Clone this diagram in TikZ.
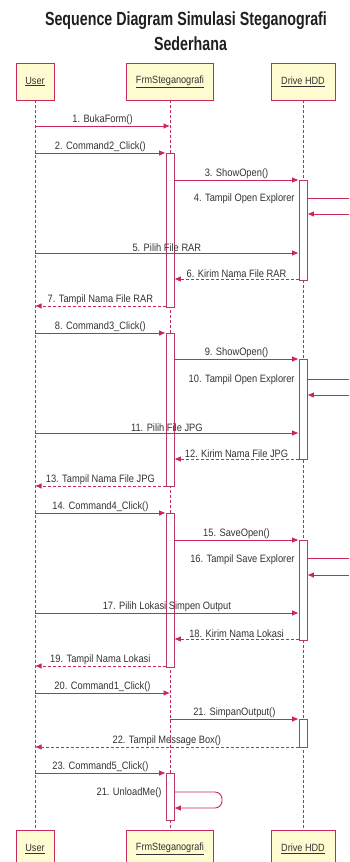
\documentclass[tikz,border=0pt]{standalone}
\usepackage{fontspec}
\usetikzlibrary{arrows.meta}
\newfontfamily\labf[FakeStretch=0.87]{Liberation Sans}
\newfontfamily\titf[FakeStretch=0.75]{Liberation Sans}
\definecolor{crim}{HTML}{C8285A}
\definecolor{boxfill}{HTML}{FFFCD2}
\definecolor{txt}{HTML}{333333}
\tikzset{
  obj/.style={draw=crim, line width=0.8pt, fill=boxfill, minimum height=37pt, inner sep=0pt, font=\labf\fontsize{10.5}{12}\selectfont, text=txt},
  act/.style={draw=crim!80!gray, line width=0.6pt, fill=white, minimum width=8pt, inner sep=0pt},
  life/.style={crim, line width=0.8pt, dash pattern=on 3pt off 2pt},
  msg/.style={crim, line width=0.9pt, -{Latex[length=6.5pt,width=5.5pt]}},
  ret/.style={msg, dash pattern=on 3pt off 2pt},
  lab/.style={font=\labf\fontsize{10.7}{12}\selectfont, text=txt, inner sep=1.2pt},
  ttl/.style={font=\titf\bfseries\fontsize{19}{22}\selectfont, text=black!88, anchor=base, inner sep=0pt},
}
\begin{document}
\begin{tikzpicture}[x=1pt,y=-1pt]
\useasboundingbox (0,0) rectangle (349,862);
% title
\node[ttl] (t1) at (186,25.5) {Sequence Diagram Simulasi Steganografi};
\node[ttl] (t2) at (190.5,50) {Sederhana};
% objects
\node[obj, minimum width=38pt] (uT) at (35,81.5) {\underline{User}};
\node[obj, minimum width=87pt] (fT) at (170,81.5) {\underline{FrmSteganografi}};
\node[obj, minimum width=64pt] (dT) at (303,81.5) {\underline{Drive HDD}};
\node[obj, minimum width=38pt] (uB) at (35,849) {\underline{User}};
\node[obj, minimum width=87pt] (fB) at (170,849) {\underline{FrmSteganografi}};
\node[obj, minimum width=64pt] (dB) at (303,849) {\underline{Drive HDD}};
% lifelines
\draw[life] (uT.south) -- (uB.north);
\draw[life] (fT.south) -- (fB.north);
\draw[life] (dT.south) -- (dB.north);
% activations
\node[act, minimum height=154pt] (a1) at (170,230) {};
\node[act, minimum height=100pt] (d1) at (303,230) {};
\node[act, minimum height=153pt] (a2) at (170,409.5) {};
\node[act, minimum height=100pt] (d2) at (303,409) {};
\node[act, minimum height=154pt] (a3) at (170,590) {};
\node[act, minimum height=100pt] (d3) at (303,590) {};
\node[act, minimum height=28pt] (d4) at (303,733) {};
\node[act, minimum height=47pt] (a4) at (170,796.5) {};
% message rows
\foreach \n/\y in {1/126,2/153,3/180,4a/198,4b/214,5/253,6/279,7/306,
  8/333,9/359,10a/379,10b/395,11/433,12/459,13/486,
  14/513,15/540,16a/558,16b/575,17/613,18/639,19/666,
  20/693,21/719,22/747,23/773,24a/792,24b/808}
  \coordinate (y\n) at (0,\y);
\coordinate (edge) at (349,0);
\coordinate (loopx) at (222,0);
% block 1
\draw[msg] (uT |- y1) -- node[lab, above] {1. BukaForm()} (fT |- y1);
\draw[msg] (uT |- y2) -- node[lab, above] {2. Command2\_Click()} (a1.west |- y2);
\draw[msg] (a1.east |- y3) -- node[lab, above] {3. ShowOpen()} (d1.west |- y3);
\node[lab, anchor=east] (l4) at (296,199) {4. Tampil Open Explorer};
\draw[crim, line width=0.9pt] (d1.east |- y4a) -- (edge |- y4a);
\draw[msg] (edge |- y4b) -- (d1.east |- y4b);
\draw[msg] (uT |- y5) -- node[lab, above] {5. Pilih File RAR} (d1.west |- y5);
\draw[ret] (d1.west |- y6) -- node[lab, above] {6. Kirim Nama File RAR} (a1.east |- y6);
\draw[ret] (a1.west |- y7) -- node[lab, above] {7. Tampil Nama File RAR} (uT |- y7);
% block 2
\draw[msg] (uT |- y8) -- node[lab, above] {8. Command3\_Click()} (a2.west |- y8);
\draw[msg] (a2.east |- y9) -- node[lab, above] {9. ShowOpen()} (d2.west |- y9);
\node[lab, anchor=east] (l10) at (296,380) {10. Tampil Open Explorer};
\draw[crim, line width=0.9pt] (d2.east |- y10a) -- (edge |- y10a);
\draw[msg] (edge |- y10b) -- (d2.east |- y10b);
\draw[msg] (uT |- y11) -- node[lab, above] {11. Pilih File JPG} (d2.west |- y11);
\draw[ret] (d2.west |- y12) -- node[lab, above] {12. Kirim Nama File JPG} (a2.east |- y12);
\draw[ret] (a2.west |- y13) -- node[lab, above] {13. Tampil Nama File JPG} (uT |- y13);
% block 3
\draw[msg] (uT |- y14) -- node[lab, above] {14. Command4\_Click()} (a3.west |- y14);
\draw[msg] (a3.east |- y15) -- node[lab, above] {15. SaveOpen()} (d3.west |- y15);
\node[lab, anchor=east] (l16) at (296,560) {16. Tampil Save Explorer};
\draw[crim, line width=0.9pt] (d3.east |- y16a) -- (edge |- y16a);
\draw[msg] (edge |- y16b) -- (d3.east |- y16b);
\draw[msg] (uT |- y17) -- node[lab, above] {17. Pilih Lokasi Simpen Output} (d3.west |- y17);
\draw[ret] (d3.west |- y18) -- node[lab, above] {18. Kirim Nama Lokasi} (a3.east |- y18);
\draw[ret] (a3.west |- y19) -- node[lab, above] {19. Tampil Nama Lokasi} (uT |- y19);
% block 4
\draw[msg] (uT |- y20) -- node[lab, above] {20. Command1\_Click()} (fT |- y20);
\draw[msg] (fT |- y21) -- node[lab, above] {21. SimpanOutput()} (d4.west |- y21);
\draw[ret] (d4.west |- y22) -- node[lab, above] {22. Tampil Message Box()} (uT |- y22);
\draw[msg] (uT |- y23) -- node[lab, above] {23. Command5\_Click()} (a4.west |- y23);
\node[lab, anchor=east] (l24) at (163,793) {21. UnloadMe()};
\draw[msg, rounded corners=7pt] (a4.east |- y24a) -- (loopx |- y24a) -- (loopx |- y24b) -- (a4.east |- y24b);
\end{tikzpicture}
\end{document}
